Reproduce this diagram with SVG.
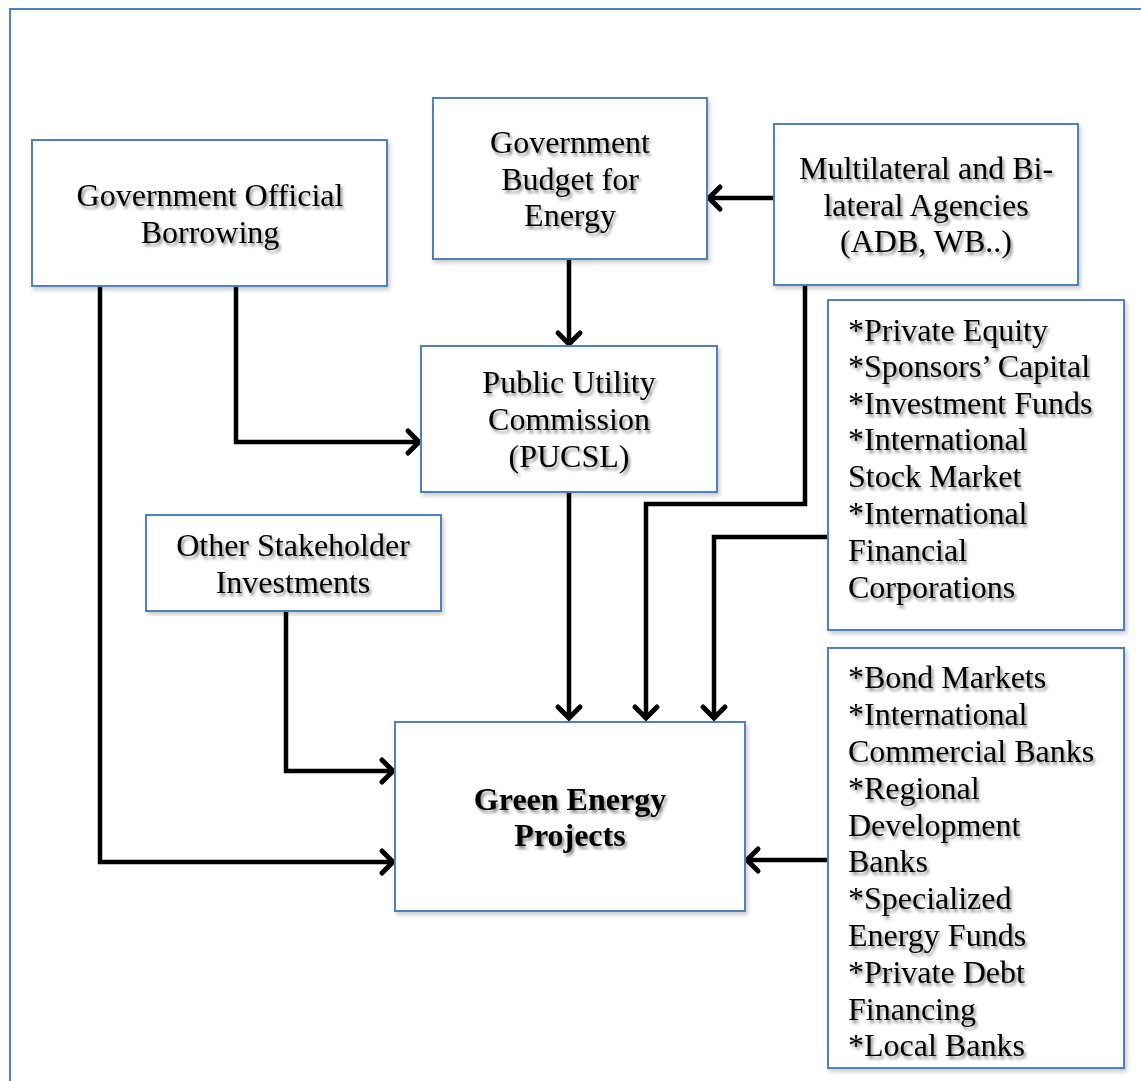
<svg xmlns="http://www.w3.org/2000/svg" width="1141" height="1081" viewBox="0 0 1141 1081">
<defs>
<style>
.box{fill:#fff;stroke:#4f81bd;stroke-width:2;filter:url(#bs)}
.t{font-family:"Liberation Serif","Times New Roman",serif;font-size:32px;fill:#000;filter:url(#ts)}
.c{text-anchor:middle}
.b{font-weight:bold}
.ln{fill:none;stroke:#000;stroke-width:4.5;marker-end:url(#ah)}
</style>
<filter id="ts" x="-10%" y="-30%" width="120%" height="160%">
<feDropShadow dx="2" dy="3" stdDeviation="1.5" flood-color="#000" flood-opacity="0.45"/>
</filter>
<filter id="bs" x="-5%" y="-5%" width="110%" height="110%">
<feDropShadow dx="2" dy="3" stdDeviation="2" flood-color="#000" flood-opacity="0.2"/>
</filter>
<marker id="ah" markerUnits="userSpaceOnUse" markerWidth="30" markerHeight="30" refX="21" refY="12" orient="auto" viewBox="0 0 30 24" overflow="visible">
<path d="M10,1 L21,12 L10,23" fill="none" stroke="#000" stroke-width="5" stroke-linecap="round" stroke-linejoin="miter"/>
</marker>
</defs>
<rect width="1141" height="1081" fill="#fff"/>
<rect x="10" y="9" width="1145" height="1090" fill="none" stroke="#4f81bd" stroke-width="2"/>

<g id="connectors">
<path class="ln" d="M774,198 H709"/>
<path class="ln" d="M569,259 V344"/>
<path class="ln" d="M236,284 V442 H419"/>
<path class="ln" d="M100,284 V862 H393"/>
<path class="ln" d="M286,609 V771 H393"/>
<path class="ln" d="M569,490 V718"/>
<path class="ln" d="M805,285 V504 H646 V718"/>
<path class="ln" d="M830,537 H714 V718"/>
<path class="ln" d="M828,860 H747"/>
</g>

<g id="gov-borrowing">
<rect class="box" x="32" y="140" width="355" height="146"/>
<text class="t c" x="210" y="206">Government Official</text>
<text class="t c" x="210" y="243">Borrowing</text>
</g>

<g id="gov-budget">
<rect class="box" x="433" y="98" width="274" height="161"/>
<text class="t c" x="570" y="153">Government</text>
<text class="t c" x="570" y="190">Budget for</text>
<text class="t c" x="570" y="226">Energy</text>
</g>

<g id="multilateral">
<rect class="box" x="774" y="124" width="304" height="161"/>
<text class="t c" x="926" y="179">Multilateral and Bi-</text>
<text class="t c" x="926" y="216">lateral Agencies</text>
<text class="t c" x="926" y="252">(ADB, WB..)</text>
</g>

<g id="private-sources">
<rect class="box" x="828" y="300" width="296" height="330"/>
<text class="t" x="848" y="341">*Private Equity</text>
<text class="t" x="848" y="377">*Sponsors’ Capital</text>
<text class="t" x="848" y="414">*Investment Funds</text>
<text class="t" x="848" y="450">*International</text>
<text class="t" x="848" y="487">Stock Market</text>
<text class="t" x="848" y="524">*International</text>
<text class="t" x="848" y="561">Financial</text>
<text class="t" x="848" y="598">Corporations</text>
</g>

<g id="pucsl">
<rect class="box" x="421" y="346" width="296" height="146"/>
<text class="t c" x="569" y="393">Public Utility</text>
<text class="t c" x="569" y="430">Commission</text>
<text class="t c" x="569" y="467">(PUCSL)</text>
</g>

<g id="other-stakeholder">
<rect class="box" x="146" y="515" width="295" height="96"/>
<text class="t c" x="293" y="556">Other Stakeholder</text>
<text class="t c" x="293" y="593">Investments</text>
</g>

<g id="green-energy">
<rect class="box" x="395" y="722" width="350" height="189"/>
<text class="t c b" x="570" y="810">Green Energy</text>
<text class="t c b" x="570" y="846">Projects</text>
</g>

<g id="debt-sources">
<rect class="box" x="828" y="648" width="296" height="420"/>
<text class="t" x="848" y="688">*Bond Markets</text>
<text class="t" x="848" y="725">*International</text>
<text class="t" x="848" y="762">Commercial Banks</text>
<text class="t" x="848" y="799">*Regional</text>
<text class="t" x="848" y="836">Development</text>
<text class="t" x="848" y="872">Banks</text>
<text class="t" x="848" y="909">*Specialized</text>
<text class="t" x="848" y="946">Energy Funds</text>
<text class="t" x="848" y="983">*Private Debt</text>
<text class="t" x="848" y="1020">Financing</text>
<text class="t" x="848" y="1056">*Local Banks</text>
</g>
</svg>
